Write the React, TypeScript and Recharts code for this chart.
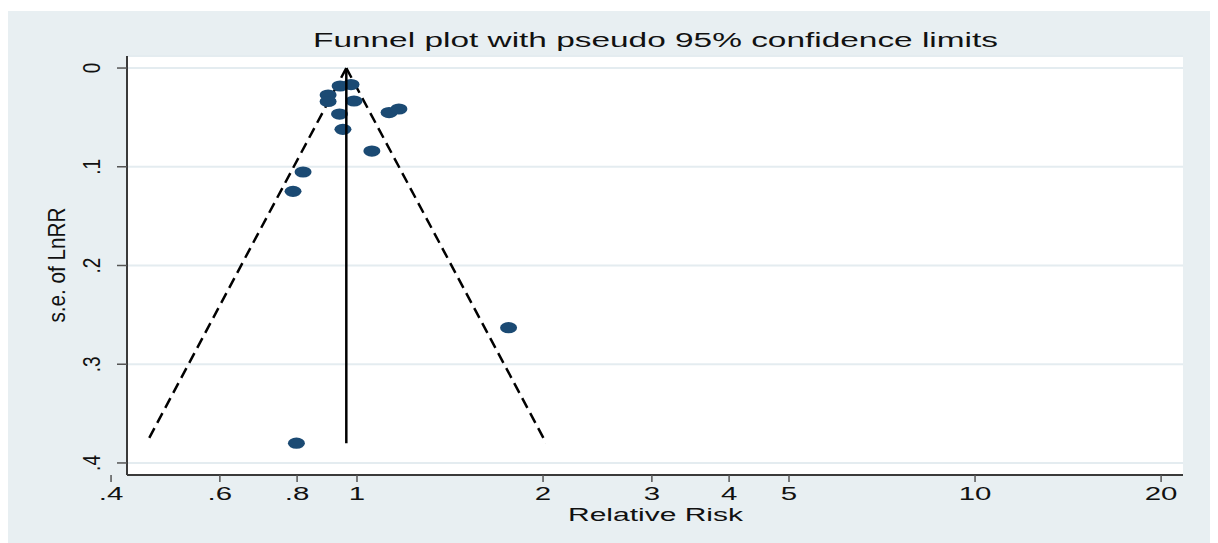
import React from 'react';
import {
  ScatterChart,
  Scatter,
  XAxis,
  YAxis,
  CartesianGrid,
  ReferenceLine,
  Label,
} from 'recharts';

// Study estimates: relative risk and standard error of ln(RR)
const RR_VALUES = [0.939, 0.978, 0.898, 0.898, 0.989, 0.937, 1.127, 1.169, 0.949, 1.057, 0.818, 0.788, 1.759, 0.798];
const SE_VALUES = [0.0182, 0.0167, 0.0273, 0.0339, 0.0334, 0.0466, 0.0451, 0.0415, 0.0621, 0.0841, 0.1053, 0.1249, 0.263, 0.38];

// Pooled estimate and the deepest point of the funnel
const POOLED_RR = 0.961;
const MAX_SE = 0.38;
const Z_95 = 1.96;

const X_TICKS = [0.4, 0.6, 0.8, 1, 2, 3, 4, 5, 10, 20];
const Y_TICKS = [0, 0.1, 0.2, 0.3, 0.4];

const FONT = '"Liberation Sans", Arial, Helvetica, sans-serif';
const NAVY = '#1b4a73';
const AXIS = '#3a3a3a';

const studies = RR_VALUES.map((rr, i) => ({ rr, se: SE_VALUES[i] }));
const pooledLine = [
  { rr: POOLED_RR, se: 0 },
  { rr: POOLED_RR, se: MAX_SE },
];

const lowerLimit = Math.exp(Math.log(POOLED_RR) - Z_95 * MAX_SE);
const upperLimit = Math.exp(Math.log(POOLED_RR) + Z_95 * MAX_SE);

const fmt = (v: number) => String(v).replace(/^0\./, '.');

function XTick(props: any) {
  const { x, y, payload } = props;
  return (
    <text
      transform={`translate(${x},${y + 16}) scale(1.55,1)`}
      textAnchor="middle"
      fontFamily={FONT}
      fontSize={19}
      fill="#111"
    >
      {fmt(payload.value)}
    </text>
  );
}

function YTick(props: any) {
  const { x, y, payload } = props;
  return (
    <text
      transform={`translate(${x - 15},${y}) rotate(-90) scale(1,1.3)`}
      textAnchor="middle"
      fontFamily={FONT}
      fontSize={19}
      fill="#111"
    >
      {fmt(payload.value)}
    </text>
  );
}

function Dot(props: any) {
  const { cx, cy } = props;
  if (cx == null || cy == null) return null;
  return <ellipse cx={cx} cy={cy} rx={8.5} ry={5.6} fill={NAVY} />;
}

const NoMarker = () => <g />;

// Chart title and axis titles, placed in chart coordinates
function Titles() {
  return (
    <g fontFamily={FONT} fill="#111">
      <text x={647.5} y={38.7} textAnchor="middle" fontSize={20} textLength={685} lengthAdjust="spacingAndGlyphs">
        Funnel plot with pseudo 95% confidence limits
      </text>
      <text x={647.5} y={512.7} textAnchor="middle" fontSize={18} textLength={175} lengthAdjust="spacingAndGlyphs">
        Relative Risk
      </text>
      <text
        transform="translate(57,257) rotate(-90) scale(1,1.3)"
        textAnchor="middle"
        fontSize={18}
        textLength={115}
        lengthAdjust="spacingAndGlyphs"
      >
        s.e. of LnRR
      </text>
    </g>
  );
}

export default function App() {
  return (
    <div style={{ position: 'relative', width: 1205, height: 535 }}>
      <div
        style={{ position: 'absolute', left: -1, top: 3, width: 1205, height: 532, background: '#e8eff2' }}
      />
      <ScatterChart
        width={1205}
        height={535}
        margin={{ top: 48, right: 30, bottom: 0, left: 59 }}
        style={{ position: 'relative' }}
      >
        <CartesianGrid vertical={false} fill="#ffffff" stroke="#e4ecf0" strokeWidth={2} />
        <XAxis
          dataKey="rr"
          type="number"
          scale="log"
          domain={[0.4245, 21.7]}
          allowDataOverflow
          ticks={X_TICKS}
          interval={0}
          height={68}
          tickSize={7}
          tickMargin={2}
          axisLine={{ stroke: AXIS, strokeWidth: 2 }}
          tickLine={{ stroke: '#555', strokeWidth: 1.5 }}
          tick={<XTick />}
          label={<Label content={<Titles />} />}
        />
        <YAxis
          dataKey="se"
          type="number"
          reversed
          domain={[-0.0122, 0.4122]}
          allowDataOverflow
          ticks={Y_TICKS}
          interval={0}
          width={60}
          tickSize={10}
          tickMargin={2}
          axisLine={{ stroke: AXIS, strokeWidth: 2 }}
          tickLine={{ stroke: '#555', strokeWidth: 1.5 }}
          tick={<YTick />}
        />
        <ReferenceLine
          segment={[{ x: POOLED_RR, y: 0 }, { x: lowerLimit, y: MAX_SE }]}
          stroke="#000"
          strokeWidth={2.5}
          strokeDasharray="11 6"
        />
        <ReferenceLine
          segment={[{ x: POOLED_RR, y: 0 }, { x: upperLimit, y: MAX_SE }]}
          stroke="#000"
          strokeWidth={2.5}
          strokeDasharray="11 6"
        />
        <Scatter data={studies} shape={<Dot />} isAnimationActive={false} />
        <Scatter
          data={pooledLine}
          line={{ stroke: '#000', strokeWidth: 2.5 }}
          shape={<NoMarker />}
          isAnimationActive={false}
        />
      </ScatterChart>
    </div>
  );
}
